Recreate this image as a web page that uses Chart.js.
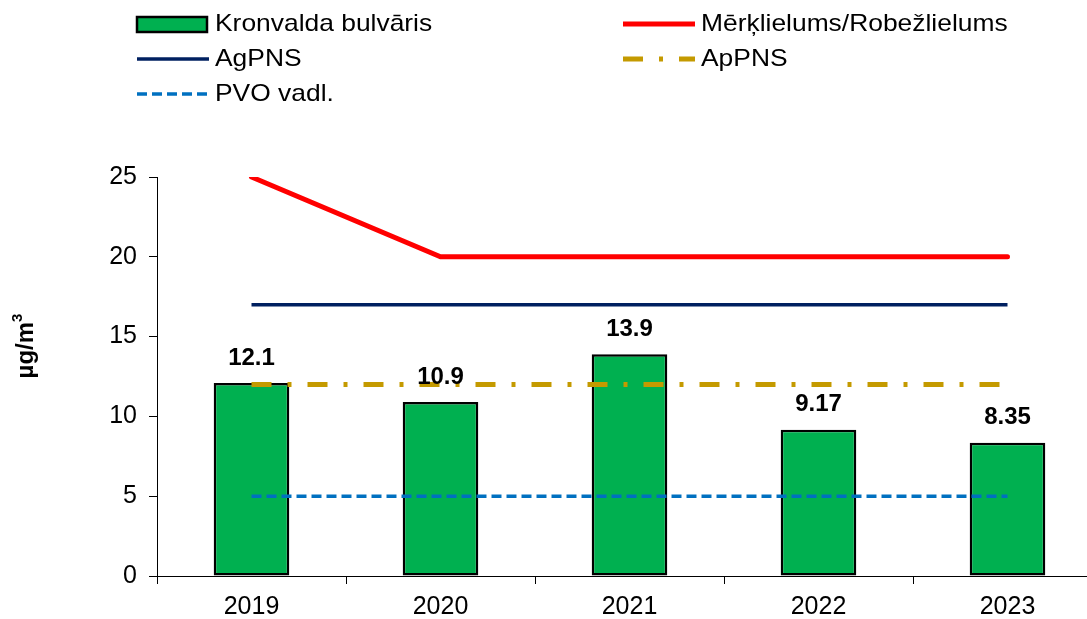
<!DOCTYPE html>
<html lang="lv">
<head>
  <meta charset="UTF-8">
  <title>Kronvalda bulvāris</title>
  <script src="https://cdn.jsdelivr.net/npm/chart.js"></script>
  <style>
    html, body {
      margin: 0;
      padding: 0;
      overflow: hidden;
      background: #fff;
    }
    canvas {
      display: block;
    }
  </style>
</head>
<body>
  <canvas id="chart" width="1110" height="619"></canvas>

  <script>
    const years = ['2019', '2020', '2021', '2022', '2023'];
    const kronvalda = [12.1, 10.9, 13.9, 9.17, 8.35];
    const merkl = [25, 20, 20, 20, 20];
    const agpns = [17, 17, 17, 17, 17];
    const appns = [12, 12, 12, 12, 12];
    const pvo = [5, 5, 5, 5, 5];
    const yTicks = [0, 5, 10, 15, 20, 25];

    const FONT = '"Liberation Sans", Arial, sans-serif';

    // legend drawn by hand: two columns, three rows
    const legendSlots = [
      [137, 24], [623, 24],
      [137, 59], [623, 59],
      [137, 94]
    ];

    // the original text is a bit wider than Arial, stretch it a little
    function wideText(ctx, text, x, y, sx) {
      ctx.save();
      ctx.translate(x, y);
      ctx.scale(sx, 1);
      ctx.fillText(text, 0, 0);
      ctx.restore();
    }

    const legendPlugin = {
      id: 'legendGrid',
      afterDraw(chart) {
        const ctx = chart.ctx;
        ctx.save();
        chart.data.datasets.forEach((ds, i) => {
          const [x, y] = legendSlots[i];
          if (ds.type === 'bar') {
            ctx.fillStyle = ds.backgroundColor;
            ctx.fillRect(x, y - 7, 70, 15);
            ctx.lineWidth = 2.5;
            ctx.strokeStyle = '#000';
            ctx.strokeRect(x, y - 7, 70, 15);
          } else {
            ctx.beginPath();
            ctx.setLineDash(ds.borderDash || []);
            ctx.lineWidth = ds.borderWidth;
            ctx.strokeStyle = ds.borderColor;
            ctx.moveTo(x, y);
            ctx.lineTo(x + 72, y);
            ctx.stroke();
            ctx.setLineDash([]);
          }
          ctx.fillStyle = '#000';
          ctx.font = '24px ' + FONT;
          ctx.textBaseline = 'middle';
          ctx.textAlign = 'left';
          wideText(ctx, ds.label, x + 78, y, 1.1);
        });

        // y axis title
        ctx.translate(26, 346);
        ctx.rotate(-Math.PI / 2);
        ctx.textBaseline = 'middle';
        ctx.textAlign = 'left';
        ctx.font = 'bold 24px ' + FONT;
        const main = 'µg/m';
        const w = ctx.measureText(main).width;
        ctx.font = 'bold 15px ' + FONT;
        const w3 = ctx.measureText('3').width;
        const start = -(w + w3) / 2;
        ctx.font = 'bold 24px ' + FONT;
        ctx.fillText(main, start, 0);
        ctx.font = 'bold 15px ' + FONT;
        ctx.fillText('3', start + w, -8);
        ctx.restore();
      }
    };

    const valueLabels = {
      id: 'valueLabels',
      afterDatasetsDraw(chart) {
        const ctx = chart.ctx;
        const idx = chart.data.datasets.findIndex(d => d.type === 'bar');
        const meta = chart.getDatasetMeta(idx);
        ctx.save();
        ctx.font = 'bold 24px ' + FONT;
        ctx.fillStyle = '#000';
        ctx.textAlign = 'center';
        ctx.textBaseline = 'middle';
        meta.data.forEach((bar, i) => {
          ctx.fillText(String(kronvalda[i]), bar.x, bar.y - 25);
        });
        ctx.restore();
      }
    };

    new Chart(document.getElementById('chart'), {
      data: {
        labels: years,
        datasets: [
          {
            type: 'bar',
            label: 'Kronvalda bulvāris',
            data: kronvalda,
            backgroundColor: '#00B050',
            borderColor: '#000',
            borderWidth: 2.5,
            borderSkipped: false,
            barPercentage: 0.4,
            categoryPercentage: 1,
            order: 10
          },
          {
            type: 'line',
            label: 'Mērķlielums/Robežlielums',
            data: merkl,
            borderColor: '#FF0000',
            borderWidth: 5,
            borderCapStyle: 'round',
            pointRadius: 0,
            order: 1
          },
          {
            type: 'line',
            label: 'AgPNS',
            data: agpns,
            borderColor: '#002060',
            borderWidth: 3.5,
            pointRadius: 0,
            order: 2
          },
          {
            type: 'line',
            label: 'ApPNS',
            data: appns,
            borderColor: '#C49A00',
            borderWidth: 5,
            borderDash: [20, 16, 4, 16],
            pointRadius: 0,
            order: 0
          },
          {
            type: 'line',
            label: 'PVO vadl.',
            data: pvo,
            borderColor: '#0070C0',
            borderWidth: 3.5,
            borderDash: [10, 5],
            pointRadius: 0,
            order: 3
          }
        ]
      },
      options: {
        responsive: false,
        animation: false,
        layout: { padding: { top: 177, right: 8, left: 0, bottom: 0 } },
        plugins: {
          legend: { display: false },
          tooltip: { enabled: false }
        },
        scales: {
          x: {
            grid: {
              offset: true,
              drawOnChartArea: false,
              drawTicks: true,
              tickLength: 8,
              color: '#000'
            },
            border: { color: '#000', width: 1 },
            ticks: {
              color: '#000',
              font: { family: FONT, size: 25 },
              padding: 8,
              maxRotation: 0
            },
            afterFit(scale) { scale.height = 43; }
          },
          y: {
            min: 0,
            max: 25,
            afterBuildTicks(scale) {
              scale.ticks = yTicks.map(v => ({ value: v }));
            },
            grid: {
              drawOnChartArea: false,
              drawTicks: true,
              tickLength: 8,
              color: '#000'
            },
            border: { color: '#000', width: 1 },
            ticks: {
              color: '#000',
              font: { family: FONT, size: 25 },
              padding: 12
            },
            afterFit(scale) { scale.width = 157; }
          }
        }
      },
      plugins: [legendPlugin, valueLabels]
    });
  </script>
</body>
</html>
